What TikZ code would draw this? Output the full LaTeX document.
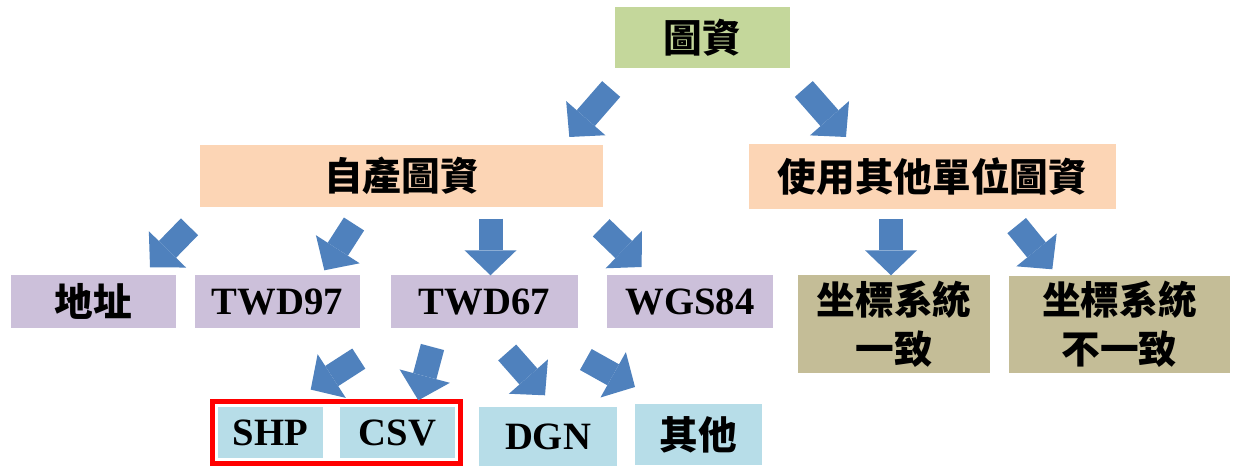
\documentclass[tikz,border=0pt]{standalone}
\usepackage{fontspec}
\setmainfont{Liberation Serif}
\newfontfamily\cjk{Noto Sans CJK TC}
\usetikzlibrary{arrows.meta,fit}
\definecolor{lvgreen}{HTML}{C4D79B}
\definecolor{lvpeach}{HTML}{FCD5B5}
\definecolor{lvpurple}{HTML}{CCC0DA}
\definecolor{lvolive}{HTML}{C4BD97}
\definecolor{lvblue}{HTML}{B7DDE8}
\definecolor{arrowblue}{HTML}{4F81BD}
\begin{document}
\begin{tikzpicture}[x=0.025cm, y=-0.025cm,
	box/.style={inner sep=0pt, align=center},
	zh/.style={font=\fontsize{27.5}{35}\selectfont\cjk\bfseries},
	en/.style={font=\fontsize{27.5}{35}\selectfont\bfseries},
	bigarrow/.style={draw=arrowblue, line width=0.6cm, -{Triangle[length=0.625cm, width=1.3cm, line width=0pt]}}]
	\useasboundingbox (0,0) rectangle (1248,466);
	% level 0 and 1
	\node[box, zh, fill=lvgreen, minimum width=4.375cm, minimum height=1.525cm] (top) at (702.5,37.5) {圖資};
	\node[box, zh, fill=lvpeach, minimum width=10.075cm, minimum height=1.55cm] (self) at (401.5,176) {自產圖資};
	\node[box, zh, fill=lvpeach, minimum width=9.175cm, minimum height=1.625cm] (other) at (932.5,176.5) {使用其他單位圖資};
	% level 2
	\node[box, zh, fill=lvpurple, minimum width=4.125cm, minimum height=1.325cm] (addr) at (93.5,301.5) {地址};
	\node[box, en, fill=lvpurple, minimum width=4.125cm, minimum height=1.325cm] (twd97) at (277.5,301.5) {TWD97};
	\node[box, en, fill=lvpurple, minimum width=4.675cm, minimum height=1.325cm] (twd67) at (484.5,301.5) {TWD67};
	\node[box, en, fill=lvpurple, minimum width=4.15cm, minimum height=1.325cm] (wgs84) at (690,301.5) {WGS84};
	\node[box, zh, fill=lvolive, minimum width=4.8cm, minimum height=2.45cm] (same) at (894,324) {坐標系統\\一致};
	\node[box, zh, fill=lvolive, minimum width=5.525cm, minimum height=2.425cm] (diff) at (1119.5,324.5) {坐標系統\\不一致};
	% level 3
	\node[box, en, fill=lvblue, minimum width=2.625cm, minimum height=1.275cm] (shp) at (270.5,432.5) {SHP};
	\node[box, en, fill=lvblue, minimum width=2.875cm, minimum height=1.275cm] (csv) at (397.5,432.5) {CSV};
	\node[box, en, fill=lvblue, minimum width=3.45cm, minimum height=1.475cm] (dgn) at (548,436.5) {DGN};
	\node[box, zh, fill=lvblue, minimum width=3.175cm, minimum height=1.525cm] (misc) at (698.5,434.5) {其他};
	\node[draw=red, line width=0.125cm, inner sep=0.125cm, fit=(shp)(csv)] (pick) {};
	% arrows
	\draw[bigarrow] (top.south) ++(-91.3,20.7) -- ++(-41.9,48);
	\draw[bigarrow] (top.south) ++(101.3,20.7) -- ++(42.2,48);
	\draw[bigarrow] (self.south) ++(-212,19.5) -- ++(-39.5,40.5);
	\draw[bigarrow] (self.south) ++(-47.5,16.7) -- ++(-29.7,46.3);
	\draw[bigarrow] (self.south) ++(89,11.3) -- ++(0,56.7);
	\draw[bigarrow] (self.south) ++(199.7,20.5) -- ++(40.5,39.2);
	\draw[bigarrow] (other.south) ++(-41.5,9.3) -- ++(0,56.7);
	\draw[bigarrow] (other.south) ++(84.2,16.3) -- ++(35.6,43.7);
	\draw[bigarrow] (twd67.south) ++(-125.7,30.3) -- ++(-48.1,31);
	\draw[bigarrow] (twd67.south) ++(-52,18.7) -- ++(-14.2,53.3);
	\draw[bigarrow] (twd67.south) ++(22.7,24.2) -- ++(37.8,42.8);
	\draw[bigarrow] (twd67.south) ++(101.3,31.2) -- ++(49.2,27.5);
\end{tikzpicture}
\end{document}
